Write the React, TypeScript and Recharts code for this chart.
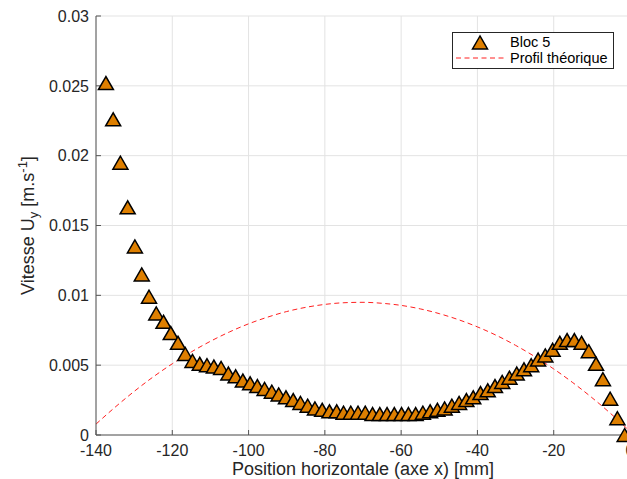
import React from "react";
import {
  ComposedChart,
  Scatter,
  Line,
  XAxis,
  YAxis,
  CartesianGrid,
  Legend,
} from "recharts";

// ── Data ─────────────────────────────────────────────────────────────────────

// Bloc 5 : positions (mm) and measured vertical velocity (m/s)
const positions = [
  -137.4, -135.5, -133.6, -131.7, -129.8, -128.0, -126.1, -124.2, -122.3, -120.4,
  -118.5, -116.6, -114.7, -112.8, -110.9, -109.1, -107.2, -105.3, -103.4, -101.5,
  -99.6, -97.7, -95.8, -93.9, -92.1, -90.2, -88.3, -86.4, -84.5, -82.6,
  -80.7, -78.8, -76.9, -75.1, -73.2, -71.3, -69.4, -67.5, -65.6, -63.7,
  -61.8, -59.9, -58.1, -56.2, -54.3, -52.4, -50.5, -48.6, -46.7, -44.8,
  -42.9, -41.1, -39.2, -37.3, -35.4, -33.5, -31.6, -29.7, -27.8, -25.9,
  -24.1, -22.2, -20.3, -18.4, -16.5, -14.6, -12.7, -10.8, -8.9, -7.1,
  -5.2, -3.3, -1.4,
];

const vitesses = [
  0.0252, 0.0226, 0.0195, 0.0163, 0.0135, 0.0115, 0.0099, 0.0087, 0.0081, 0.0073,
  0.0066, 0.0058, 0.0053, 0.0051, 0.005, 0.0049, 0.0048, 0.0044, 0.0042, 0.0039,
  0.0037, 0.0035, 0.0033, 0.0031, 0.0029, 0.0027, 0.0025, 0.0023, 0.0021, 0.0019,
  0.0018, 0.0017, 0.0017, 0.0016, 0.0016, 0.0016, 0.0016, 0.0015, 0.0015, 0.0015,
  0.0015, 0.0015, 0.0015, 0.0015, 0.0016, 0.0017, 0.0018, 0.0019, 0.0021, 0.0023,
  0.0025, 0.0027, 0.003, 0.0032, 0.0035, 0.0038, 0.0041, 0.0044, 0.0047, 0.005,
  0.0054, 0.0057, 0.0061, 0.0066, 0.0068, 0.0068, 0.0066, 0.006, 0.0051, 0.004,
  0.0026, 0.0012, 0.0,
];

// Profil théorique (read every 5 mm)
const profilX = [
  -140, -135, -130, -125, -120, -115, -110, -105, -100, -95, -90, -85, -80, -75, -70,
  -65, -60, -55, -50, -45, -40, -35, -30, -25, -20, -15, -10, -5, 0,
];
const profilY = [
  0.00078, 0.00199, 0.00312, 0.00416, 0.0051, 0.00595, 0.00671, 0.00738, 0.00796,
  0.00844, 0.00884, 0.00914, 0.00935, 0.00947, 0.0095, 0.00943, 0.00928, 0.00903,
  0.00869, 0.00826, 0.00774, 0.00713, 0.00642, 0.00562, 0.00473, 0.00375, 0.00268,
  0.00152, 0.00026,
];

const xTicks = [-140, -120, -100, -80, -60, -40, -20, 0];
const yTicks = [0, 0.005, 0.01, 0.015, 0.02, 0.025, 0.03];

const blocData = positions.map((x, i) => ({ x, y: vitesses[i] }));
const profilData = profilX.map((x, i) => ({ x, y: profilY[i] }));

// ── Styles ───────────────────────────────────────────────────────────────────

const FONT = '"Liberation Sans", Arial, Helvetica, sans-serif';
const ORANGE = "#de7f00";
const AXIS = "#555555";
const TEXT = "#262626";

// ── Pieces ───────────────────────────────────────────────────────────────────

function Triangle(props: any) {
  const { cx, cy } = props;
  if (cx == null || cy == null) return null;
  return (
    <polygon
      points={`${cx},${cy - 6.5} ${cx - 7.5},${cy + 6.5} ${cx + 7.5},${cy + 6.5}`}
      fill={ORANGE}
      stroke="#000"
      strokeWidth={1.5}
    />
  );
}

function LegendBox() {
  return (
    <div
      style={{
        width: 162,
        height: 37,
        boxSizing: "border-box",
        border: "1px solid #262626",
        background: "#fff",
        position: "relative",
        fontFamily: FONT,
        fontSize: 14.5,
        color: "#000",
      }}
    >
      <svg width={60} height={35} style={{ position: "absolute", left: 0, top: 0 }}>
        <polygon points="27,3 19.5,16 34.5,16" fill={ORANGE} stroke="#000" strokeWidth={1.5} />
        <line x1={3} x2={53} y1={25} y2={25} stroke="#ff2020" strokeDasharray="5 3.5" />
      </svg>
      <div style={{ position: "absolute", left: 57, top: 1, lineHeight: "17px" }}>Bloc 5</div>
      <div style={{ position: "absolute", left: 57, top: 17, lineHeight: "17px" }}>
        Profil théorique
      </div>
    </div>
  );
}

const xLabel = (props: any) => {
  const { x, y, width } = props.viewBox;
  return (
    <text x={x + width / 2} y={y + 40} textAnchor="middle" fontFamily={FONT} fontSize={18} fill={TEXT}>
      Position horizontale (axe x) [mm]
    </text>
  );
};

const yLabel = (props: any) => {
  const { y, height } = props.viewBox;
  return (
    <text
      transform={`translate(34, ${y + height / 2}) rotate(-90)`}
      textAnchor="middle"
      fontFamily={FONT}
      fontSize={18}
      fill={TEXT}
    >
      Vitesse U
      <tspan dy={4} fontSize={13}>y</tspan>
      <tspan dy={-4}> [m.s</tspan>
      <tspan dy={-7} fontSize={13}>-1</tspan>
      <tspan dy={7}>]</tspan>
    </text>
  );
};

// ── Chart ────────────────────────────────────────────────────────────────────

export default function App() {
  return (
    <div
      style={{
        position: "absolute",
        left: 0,
        top: 0,
        width: 627,
        height: 479,
        overflow: "hidden",
        background: "#fff",
      }}
    >
      <ComposedChart width={632} height={479} margin={{ top: 16, right: 2, bottom: 0, left: 0 }}>
        <CartesianGrid stroke="#e3e3e3" horizontalValues={yTicks} verticalValues={xTicks} />
        <XAxis
          type="number"
          dataKey="x"
          domain={[-140, 0]}
          ticks={xTicks}
          interval={0}
          height={44}
          stroke={AXIS}
          tickSize={-5}
          tickMargin={15}
          tick={{ fontFamily: FONT, fontSize: 16, fill: TEXT }}
          label={xLabel}
          allowDataOverflow
        />
        <YAxis
          type="number"
          dataKey="y"
          domain={[0, 0.03]}
          ticks={yTicks}
          interval={0}
          width={96}
          stroke={AXIS}
          tickSize={-5}
          tickMargin={12}
          tick={{ fontFamily: FONT, fontSize: 16, fill: TEXT }}
          tickFormatter={(v: number) => String(v)}
          label={yLabel}
        />
        <Scatter
          name="Bloc 5"
          data={blocData}
          dataKey="y"
          shape={Triangle}
          isAnimationActive={false}
        />
        <Line
          name="Profil théorique"
          data={profilData}
          dataKey="y"
          type="monotone"
          stroke="#ff2020"
          strokeWidth={1}
          strokeDasharray="5 3.5"
          dot={false}
          activeDot={false}
          isAnimationActive={false}
        />
        <Legend
          content={() => <LegendBox />}
          verticalAlign="middle"
          align="center"
          layout="horizontal"
          wrapperStyle={{ left: 452, top: 32, width: "auto" }}
        />
      </ComposedChart>
    </div>
  );
}
